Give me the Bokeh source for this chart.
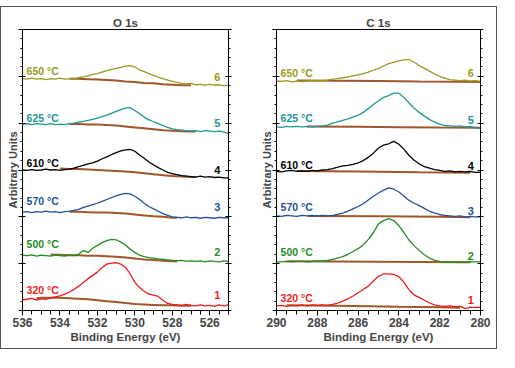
from bokeh.plotting import figure
from bokeh.models import Range1d, LinearAxis, SingleIntervalTicker
from bokeh.layouts import row
from bokeh.embed import file_html
from bokeh.resources import INLINE
from bokeh.core.properties import value

# ---------------- data ----------------
o_energy = [536.0, 535.75, 535.5, 535.25, 535.0, 534.75, 534.5, 534.25, 534.0, 533.75,
            533.5, 533.25, 533.0, 532.75, 532.5, 532.25, 532.0, 531.75, 531.5, 531.25,
            531.0, 530.75, 530.5, 530.25, 530.0, 529.75, 529.5, 529.25, 529.0, 528.75,
            528.5, 528.25, 528.0, 527.75, 527.5, 527.25, 527.0, 526.75, 526.5, 526.25,
            526.0, 525.75, 525.5, 525.25, 525.0]
o_320 = [0.23, 0.24, 0.26, 0.22, 0.25, 0.24, 0.27, 0.29, 0.31, 0.35,
         0.39, 0.45, 0.52, 0.60, 0.68, 0.75, 0.82, 0.92, 0.99, 1.01,
         1.02, 0.99, 0.92, 0.78, 0.60, 0.49, 0.41, 0.35, 0.33, 0.30,
         0.22, 0.15, 0.13, 0.12, 0.11, 0.13, 0.11, 0.10, 0.12, 0.10,
         0.11, 0.09, 0.12, 0.10, 0.12]
o_500 = [1.18, 1.17, 1.19, 1.16, 1.18, 1.17, 1.16, 1.18, 1.17, 1.16,
         1.18, 1.17, 1.20, 1.28, 1.24, 1.33, 1.39, 1.45, 1.49, 1.52,
         1.51, 1.46, 1.40, 1.31, 1.24, 1.18, 1.15, 1.13, 1.12, 1.10,
         1.09, 1.08, 1.07, 1.06, 1.07, 1.05, 1.06, 1.05, 1.06, 1.04,
         1.06, 1.05, 1.04, 1.06, 1.05]
o_570 = [2.10, 2.11, 2.09, 2.11, 2.10, 2.12, 2.10, 2.11, 2.09, 2.11,
         2.12, 2.14, 2.16, 2.20, 2.23, 2.26, 2.29, 2.33, 2.37, 2.41,
         2.45, 2.48, 2.50, 2.49, 2.44, 2.37, 2.29, 2.22, 2.17, 2.12,
         2.07, 2.03, 2.00, 1.99, 1.98, 2.00, 1.98, 1.99, 1.97, 1.99,
         1.98, 1.97, 1.99, 1.98, 1.98]
o_610 = [3.00, 2.99, 3.01, 2.99, 3.00, 3.02, 3.00, 3.01, 2.99, 3.01,
         3.02, 3.04, 3.07, 3.10, 3.13, 3.15, 3.19, 3.24, 3.28, 3.33,
         3.37, 3.41, 3.43, 3.44, 3.40, 3.32, 3.25, 3.17, 3.11, 3.05,
         3.00, 2.95, 2.92, 2.90, 2.88, 2.87, 2.86, 2.85, 2.87, 2.85,
         2.86, 2.84, 2.85, 2.83, 2.83]
o_625 = [3.98, 3.99, 3.97, 3.99, 3.98, 3.97, 3.99, 3.97, 3.98, 3.97,
         3.99, 4.00, 4.02, 4.04, 4.06, 4.08, 4.11, 4.14, 4.17, 4.21,
         4.25, 4.29, 4.32, 4.33, 4.27, 4.20, 4.13, 4.07, 4.03, 3.99,
         3.95, 3.91, 3.88, 3.86, 3.85, 3.84, 3.83, 3.84, 3.82, 3.84,
         3.83, 3.82, 3.83, 3.81, 3.78]
o_650 = [4.95, 4.94, 4.96, 4.94, 4.95, 4.93, 4.95, 4.94, 4.96, 4.94,
         4.95, 4.94, 4.97, 4.99, 5.01, 5.04, 5.06, 5.09, 5.12, 5.15,
         5.17, 5.19, 5.22, 5.23, 5.20, 5.14, 5.10, 5.06, 5.02, 4.98,
         4.95, 4.92, 4.89, 4.87, 4.85, 4.84, 4.85, 4.82, 4.83, 4.81,
         4.83, 4.81, 4.82, 4.80, 4.81]

# O 1s backgrounds (energy, value)
o_bg_320_e = [535.25, 535.0, 534.5, 534.0, 533.5, 533.0, 532.5, 532.0, 531.5, 531.0,
              530.5, 530.0, 529.5, 529.0, 528.5, 528.0, 527.5, 527.0]
o_bg_320 = [0.26, 0.27, 0.27, 0.27, 0.26, 0.25, 0.24, 0.22, 0.20, 0.18,
            0.16, 0.14, 0.13, 0.12, 0.11, 0.11, 0.10, 0.10]
o_bg_500_e = [534.5, 534.0, 533.5, 533.0, 532.5, 532.0, 531.5, 531.0, 530.5, 530.0,
              529.5, 529.0, 528.5, 528.0, 527.75]
o_bg_500 = [1.19, 1.19, 1.18, 1.18, 1.17, 1.17, 1.16, 1.15, 1.13, 1.11,
            1.09, 1.08, 1.06, 1.05, 1.05]
o_bg_570_e = [533.5, 533.0, 532.5, 532.0, 531.5, 531.0, 530.5, 530.0, 529.5, 529.0,
              528.5, 528.0, 527.75]
o_bg_570 = [2.11, 2.11, 2.10, 2.09, 2.09, 2.08, 2.07, 2.05, 2.03, 2.01,
            2.00, 1.98, 1.98]
o_bg_610_e = [534.0, 533.5, 533.0, 532.5, 532.0, 531.5, 531.0, 530.5, 530.0, 529.5,
              529.0, 528.5, 528.0, 527.5, 527.0, 526.75]
o_bg_610 = [3.03, 3.02, 3.02, 3.01, 3.00, 2.99, 2.98, 2.97, 2.95, 2.93,
            2.91, 2.89, 2.87, 2.86, 2.85, 2.85]
o_bg_625_e = [533.5, 533.0, 532.5, 532.0, 531.5, 531.0, 530.5, 530.0, 529.5, 529.0,
              528.5, 528.0, 527.5, 527.0, 526.75]
o_bg_625 = [3.98, 3.98, 3.97, 3.97, 3.96, 3.95, 3.93, 3.91, 3.89, 3.87,
            3.85, 3.84, 3.83, 3.82, 3.82]
o_bg_650_e = [533.5, 533.0, 532.5, 532.0, 531.5, 531.0, 530.5, 530.0, 529.5, 529.0,
              528.5, 528.0, 527.5, 527.0]
o_bg_650 = [4.95, 4.95, 4.94, 4.93, 4.92, 4.91, 4.89, 4.88, 4.86, 4.85,
            4.83, 4.82, 4.81, 4.81]

c_energy = [290.0, 289.75, 289.5, 289.25, 289.0, 288.75, 288.5, 288.25, 288.0, 287.75,
            287.5, 287.25, 287.0, 286.75, 286.5, 286.25, 286.0, 285.75, 285.5, 285.25,
            285.0, 284.75, 284.5, 284.25, 284.0, 283.75, 283.5, 283.25, 283.0, 282.75,
            282.5, 282.25, 282.0, 281.75, 281.5, 281.25, 281.0, 280.75, 280.5, 280.25,
            280.0]
c_320 = [0.10, 0.11, 0.09, 0.11, 0.10, 0.12, 0.10, 0.12, 0.11, 0.12,
         0.11, 0.13, 0.16, 0.20, 0.25, 0.31, 0.38, 0.45, 0.52, 0.63,
         0.73, 0.78, 0.78, 0.77, 0.72, 0.60, 0.44, 0.33, 0.28, 0.22,
         0.16, 0.12, 0.10, 0.09, 0.10, 0.08, 0.09, 0.04, 0.07, 0.06,
         0.07]
c_500 = [1.04, 1.04, 1.05, 1.04, 1.05, 1.05, 1.04, 1.05, 1.06, 1.06,
         1.07, 1.09, 1.12, 1.15, 1.20, 1.26, 1.32, 1.40, 1.52, 1.66,
         1.85, 1.92, 1.96, 1.92, 1.81, 1.66, 1.50, 1.38, 1.28, 1.19,
         1.12, 1.07, 1.05, 1.04, 1.04, 1.03, 1.04, 1.03, 1.04, 1.04,
         1.04]
c_570 = [2.02, 2.01, 2.03, 2.02, 2.01, 2.03, 2.02, 2.03, 2.02, 2.03,
         2.02, 2.03, 2.05, 2.08, 2.12, 2.17, 2.22, 2.28, 2.36, 2.44,
         2.51, 2.57, 2.62, 2.59, 2.53, 2.44, 2.35, 2.29, 2.24, 2.18,
         2.12, 2.08, 2.05, 2.03, 2.02, 2.01, 2.02, 2.00, 2.01, 2.00,
         2.00]
c_610 = [2.97, 2.96, 2.98, 2.99, 2.97, 2.98, 2.97, 2.99, 2.98, 3.00,
         3.01, 3.03, 3.06, 3.09, 3.10, 3.12, 3.15, 3.20, 3.27, 3.36,
         3.47, 3.53, 3.56, 3.61, 3.55, 3.44, 3.31, 3.21, 3.13, 3.07,
         3.04, 3.01, 2.99, 2.97, 2.98, 2.96, 2.97, 2.96, 2.97, 2.95,
         2.95]
c_625 = [3.92, 3.91, 3.93, 3.92, 3.93, 3.92, 3.93, 3.92, 3.93, 3.94,
         3.96, 4.00, 4.03, 4.06, 4.09, 4.13, 4.17, 4.23, 4.31, 4.40,
         4.48, 4.55, 4.59, 4.64, 4.64, 4.55, 4.43, 4.32, 4.23, 4.15,
         4.08, 4.02, 3.98, 3.95, 3.94, 3.93, 3.94, 3.92, 3.93, 3.90,
         3.89]
c_650 = [4.90, 4.89, 4.91, 4.88, 4.90, 4.89, 4.90, 4.91, 4.90, 4.91,
         4.92, 4.94, 4.95, 4.97, 4.99, 5.01, 5.03, 5.06, 5.09, 5.13,
         5.17, 5.22, 5.27, 5.30, 5.33, 5.35, 5.36, 5.30, 5.23, 5.17,
         5.11, 5.05, 5.00, 4.96, 4.93, 4.92, 4.91, 4.92, 4.90, 4.91,
         4.89]

c_bg_320_e = [289.5, 287.0, 284.0, 282.0, 281.0]
c_bg_320 = [0.11, 0.10, 0.08, 0.07, 0.06]
c_bg_500_e = [289.5, 285.0, 281.0, 280.5]
c_bg_500 = [1.05, 1.04, 1.03, 1.03]
c_bg_570_e = [288.5, 285.0, 282.0, 280.5]
c_bg_570 = [2.02, 2.01, 2.00, 1.99]
c_bg_610_e = [289.0, 286.0, 283.0, 280.5]
c_bg_610 = [2.98, 2.97, 2.95, 2.94]
c_bg_625_e = [288.5, 286.0, 284.0, 282.0, 280.0]
c_bg_625 = [3.93, 3.925, 3.915, 3.905, 3.90]
c_bg_650_e = [289.0, 287.0, 285.0, 283.0, 281.0, 280.0]
c_bg_650 = [4.91, 4.905, 4.90, 4.89, 4.885, 4.88]

temps = ["320 \u00b0C", "500 \u00b0C", "570 \u00b0C", "610 \u00b0C", "625 \u00b0C", "650 \u00b0C"]
numbers = ["1", "2", "3", "4", "5", "6"]
o_temp_y = [0.43, 1.43, 2.34, 3.16, 4.11, 5.12]
o_num_y = [0.33, 1.25, 2.20, 3.00, 4.01, 4.98]
c_temp_y = [0.26, 1.24, 2.21, 3.10, 4.10, 5.07]
c_num_y = [0.23, 1.17, 2.13, 3.09, 4.06, 5.07]

colors = ["#f01c1c", "#1f8f1f", "#22529c", "#000000", "#1d9696", "#9a9a20"]
bg_color = "#a0562a"
FONT = "Liberation Sans"


def make_panel(title, xr, energy, series, bgs, temp_y, num_y, temp_x, num_x,
               fwidth, left, right):
    p = figure(frame_width=fwidth, frame_height=281, output_backend="svg",
               toolbar_location=None,
               x_range=Range1d(*xr), y_range=Range1d(0, 6),
               min_border_left=left, min_border_right=right,
               min_border_top=29, min_border_bottom=39)
    p.title.text = title
    p.title.align = "center"
    p.title.text_font = FONT
    p.title.text_font_size = "11.5px"
    p.title.text_font_style = "bold"
    p.title.standoff = 1
    p.outline_line_color = "#000000"
    p.outline_line_width = 1
    p.outline_line_alpha = 1
    p.xgrid.visible = False
    p.ygrid.visible = False
    p.background_fill_color = "white"
    p.border_fill_alpha = 0

    xa = p.xaxis[0]
    xa.ticker = SingleIntervalTicker(interval=2, num_minor_ticks=4)
    xa.axis_label = "Binding Energy (eV)"
    xa.axis_label_text_font = FONT
    xa.axis_label_text_font_size = "11.5px"
    xa.axis_label_text_font_style = "bold"
    xa.axis_label_standoff = 1
    xa.major_label_text_font = FONT
    xa.major_label_text_font_size = "12px"
    xa.major_label_text_font_style = "bold"
    xa.major_label_standoff = 2
    xa.major_tick_in = 0
    xa.major_tick_out = 5
    xa.minor_tick_in = 0
    xa.minor_tick_out = 4
    xa.axis_line_color = "#000000"

    ya = p.yaxis[0]
    ya.ticker = SingleIntervalTicker(interval=1, num_minor_ticks=5)
    ya.axis_label = "Arbitrary Units"
    ya.axis_label_text_font = FONT
    ya.axis_label_text_font_size = "11px"
    ya.axis_label_text_font_style = "bold"
    ya.axis_label_standoff = 0
    ya.major_label_text_font_size = "1px"
    ya.major_label_text_color = None
    ya.major_label_standoff = 0
    ya.major_tick_in = 3
    ya.major_tick_out = 4
    ya.minor_tick_in = 0
    ya.minor_tick_out = 2

    ra = LinearAxis(ticker=SingleIntervalTicker(interval=1, num_minor_ticks=5))
    ra.major_label_text_font_size = "1px"
    ra.major_label_text_color = None
    ra.major_label_standoff = 0
    ra.major_tick_in = 3
    ra.major_tick_out = 3
    ra.minor_tick_in = 0
    ra.minor_tick_out = 2
    p.add_layout(ra, "right")

    for (be, bv) in bgs:
        p.line(be, bv, color=bg_color, line_width=2)
    for s, c in zip(series, colors):
        p.line(energy, s, color=c, line_width=1.3)

    p.text(x=[temp_x] * 6, y=temp_y, text=temps, text_color=colors,
           text_font=value(FONT), text_font_size=value("10.5px"),
           text_font_style=value("bold"),
           text_align=value("left"), text_baseline=value("middle"))
    p.text(x=[num_x] * 6, y=num_y, text=numbers, text_color=colors,
           text_font=value(FONT), text_font_size=value("11px"),
           text_font_style=value("bold"),
           text_align=value("center"), text_baseline=value("middle"))
    return p


p1 = make_panel("O 1s", (536, 525), o_energy,
                [o_320, o_500, o_570, o_610, o_625, o_650],
                [(o_bg_320_e, o_bg_320), (o_bg_500_e, o_bg_500), (o_bg_570_e, o_bg_570),
                 (o_bg_610_e, o_bg_610), (o_bg_625_e, o_bg_625), (o_bg_650_e, o_bg_650)],
                o_temp_y, o_num_y, 535.78, 525.6, 206, 22, 22)
p2 = make_panel("C 1s", (290, 280), c_energy,
                [c_320, c_500, c_570, c_610, c_625, c_650],
                [(c_bg_320_e, c_bg_320), (c_bg_500_e, c_bg_500), (c_bg_570_e, c_bg_570),
                 (c_bg_610_e, c_bg_610), (c_bg_625_e, c_bg_625), (c_bg_650_e, c_bg_650)],
                c_temp_y, c_num_y, 289.8, 280.48, 204, 26, 17)

G = "linear-gradient(#555555,#555555)"
F = "linear-gradient(#fcfcfc,#fcfcfc)"
border_bg = (F + " left top / 100% 1px no-repeat, "
             + G + " left 6px / 100% 1px no-repeat, "
             + G + " left bottom / 100% 1px no-repeat, "
             + G + " left 6px / 1px 100% no-repeat, "
             + G + " right 6px / 1px 100% no-repeat, white")
layout = row(p1, p2, styles={"background": border_bg})

open("out.html", "w").write(file_html(layout, INLINE))
